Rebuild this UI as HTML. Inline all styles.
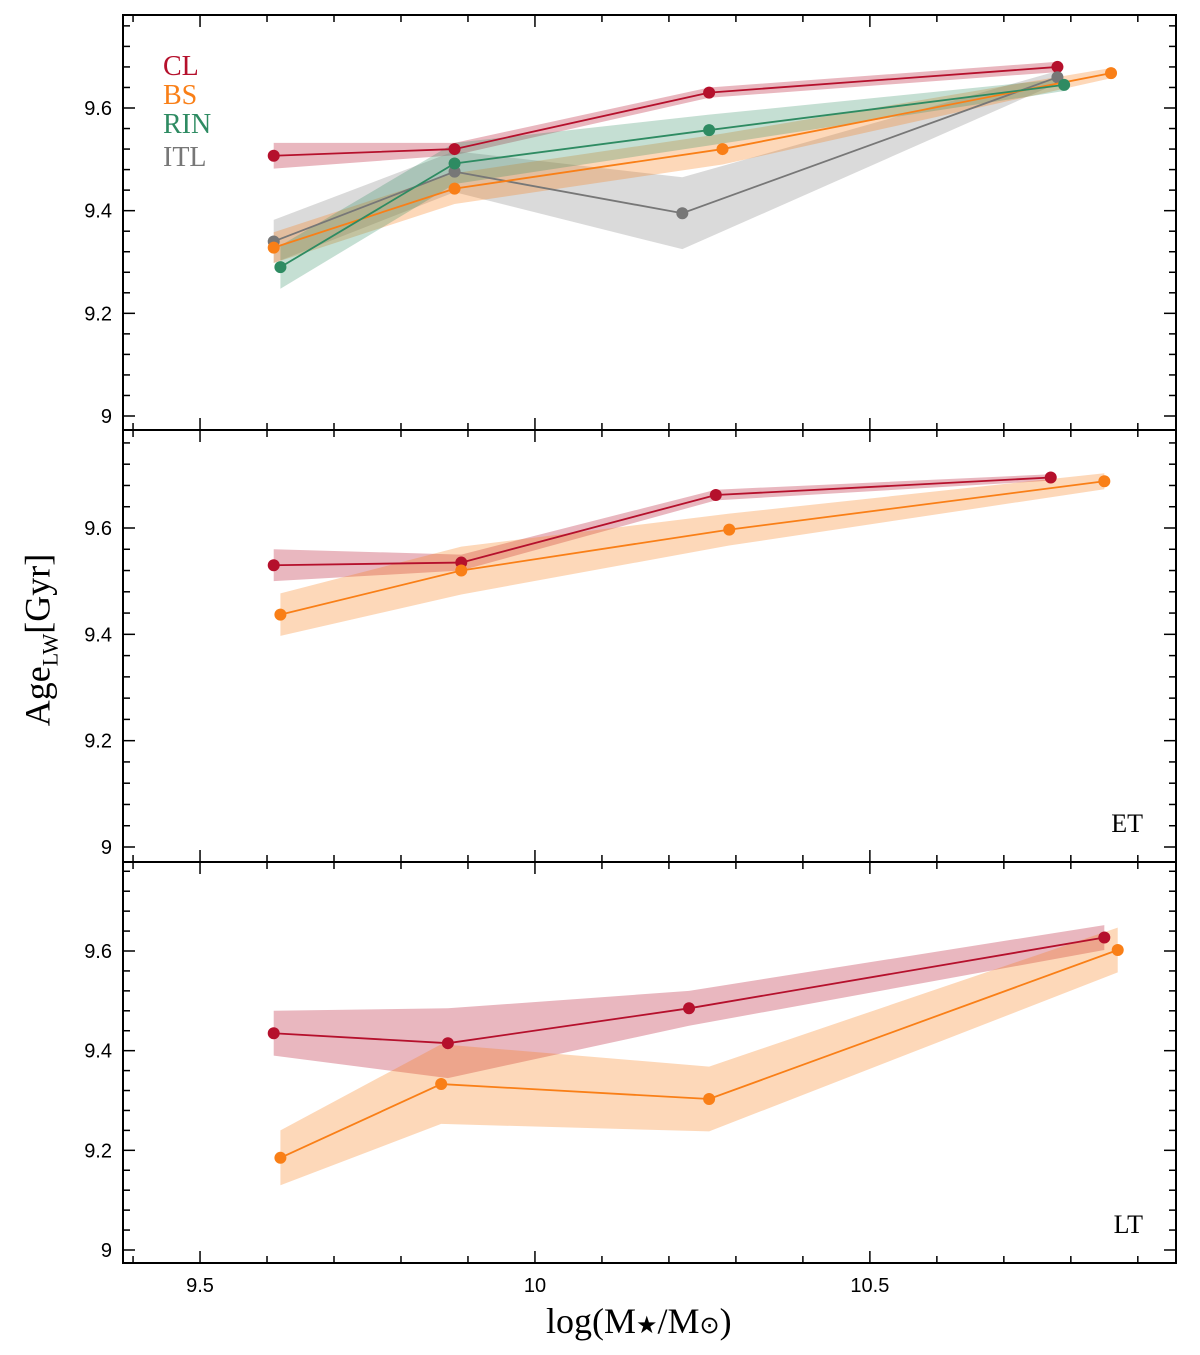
<!DOCTYPE html>
<html><head><meta charset="utf-8"><style>
html,body{margin:0;padding:0;background:#fff;}
svg{display:block;font-family:"Liberation Sans",sans-serif;}
.serif{font-family:"Liberation Serif",serif;}
</style></head><body>
<svg id="chart" width="1200" height="1355" viewBox="0 0 1200 1355"></svg>
<script>
// data
const clTopX=[9.61,9.88,10.26,10.78], clTopY=[9.507,9.52,9.63,9.68], clTopE=[0.025,0.012,0.01,0.01];
const bsTopX=[9.61,9.88,10.28,10.86], bsTopY=[9.328,9.443,9.52,9.668], bsTopE=[0.03,0.03,0.03,0.01];
const rinTopX=[9.62,9.88,10.26,10.79], rinTopY=[9.29,9.492,9.557,9.645], rinTopE=[0.042,0.04,0.03,0.012];
const itlTopX=[9.61,9.88,10.22,10.78], itlTopY=[9.34,9.476,9.395,9.66], itlTopE=[0.042,0.04,0.07,0.012];
const clEtX=[9.61,9.89,10.27,10.77], clEtY=[9.53,9.535,9.662,9.695], clEtE=[0.03,0.015,0.01,0.006];
const bsEtX=[9.62,9.89,10.29,10.85], bsEtY=[9.437,9.52,9.597,9.688], bsEtE=[0.04,0.045,0.03,0.015];
const clLtX=[9.61,9.87,10.23,10.85], clLtY=[9.435,9.415,9.485,9.627], clLtE=[0.045,0.07,0.035,0.025];
const bsLtX=[9.62,9.86,10.26,10.87], bsLtY=[9.185,9.333,9.303,9.602], bsLtE=[0.055,0.08,0.065,0.045];
const xTicks=[9.5,10,10.5], xTickLabels=["9.5","10","10.5"];
const yTicks=[9,9.2,9.4,9.6], yTickLabels=["9","9.2","9.4","9.6"];

const NS="http://www.w3.org/2000/svg";
const svg=document.getElementById('chart');
const L=123,R=1176,XMIN=9.385,XMAX=10.957;
const xs=v=>L+(v-XMIN)/(XMAX-XMIN)*(R-L);
function mk(tag,attrs,parent){const e=document.createElementNS(NS,tag);for(const k in attrs)e.setAttribute(k,attrs[k]);(parent||svg).appendChild(e);return e;}
const panels=[
 {name:'all',top:15,bot:430,y0:9,p0:416,y1:9.6,p1:108,series:[
   ['cl',clTopX,clTopY,clTopE,'#b5102c','rgba(181,16,44,0.3)'],
   ['itl',itlTopX,itlTopY,itlTopE,'#777','rgba(150,150,150,0.35)'],
   ['bs',bsTopX,bsTopY,bsTopE,'#f97f17','rgba(249,127,23,0.3)'],
   ['rin',rinTopX,rinTopY,rinTopE,'#2e8b62','rgba(46,139,98,0.28)']]},
 {name:'et',top:430,bot:862,y0:9,p0:847,y1:9.6,p1:528,label:'ET',series:[
   ['cl',clEtX,clEtY,clEtE,'#b5102c','rgba(181,16,44,0.3)'],
   ['bs',bsEtX,bsEtY,bsEtE,'#f97f17','rgba(249,127,23,0.3)']]},
 {name:'lt',top:862,bot:1263,y0:9,p0:1250,y1:9.6,p1:951,label:'LT',series:[
   ['cl',clLtX,clLtY,clLtE,'#b5102c','rgba(181,16,44,0.3)'],
   ['bs',bsLtX,bsLtY,bsLtE,'#f97f17','rgba(249,127,23,0.3)']]}
];
panels.forEach(p=>{
 const ys=v=>p.p0+(v-p.y0)/(p.y1-p.y0)*(p.p1-p.p0);
 const g=mk('g',{});
 
 
 p.series.forEach(s=>{
  const [nm,X,Y,E,c,f]=s;
  let up=X.map((x,i)=>xs(x)+','+ys(Y[i]+E[i])), dn=X.map((x,i)=>xs(x)+','+ys(Y[i]-E[i])).reverse();
  const band=mk('polygon',{points:up.concat(dn).join(' '),fill:f,stroke:'none'},g);
  
  
 });
 p.series.forEach(s=>{
  const [nm,X,Y,E,c]=s;
  const ln=mk('polyline',{points:X.map((x,i)=>xs(x)+','+ys(Y[i])).join(' '),fill:'none',stroke:c,'stroke-width':1.8},g);
  
  
  X.forEach((x,i)=>{
   const d=mk('circle',{cx:xs(x),cy:ys(Y[i]),r:6,fill:c},g);
   
   
  });
 });
 // frame
 const fr=mk('rect',{x:L,y:p.top,width:R-L,height:p.bot-p.top,fill:'none',stroke:'#000','stroke-width':2},g);
 
 
 // x ticks
 for(let k=94;k<=109;k++){const v=k/10;const X=xs(v);if(X<L||X>R)continue;
  const maj=(k%5===0);const len=maj?12:7;
  mk('line',{x1:X,y1:p.bot,x2:X,y2:p.bot-len,stroke:'#000','stroke-width':1.5},g);
  mk('line',{x1:X,y1:p.top,x2:X,y2:p.top+len,stroke:'#000','stroke-width':1.5},g);
 }
 // y ticks
 for(let k=0;k<=20;k++){const v=8.96+k*0.04;const Y=ys(v);if(Y<p.top||Y>p.bot)continue;
  const maj=(Math.round(k)%5===1);const len=maj?12:7;
  mk('line',{x1:L,y1:Y,x2:L+len,y2:Y,stroke:'#000','stroke-width':1.5},g);
  mk('line',{x1:R,y1:Y,x2:R-len,y2:Y,stroke:'#000','stroke-width':1.5},g);
 }
 yTicks.forEach((v,i)=>{
  const t=mk('text',{x:112,y:ys(v)+7,'text-anchor':'end','font-size':20,fill:'#000'},g);
  t.textContent=yTickLabels[i];
  
  
 });
 if(p.label){
  const t=mk('text',{x:1143,y:p.bot-30,'text-anchor':'end','font-size':26,class:'serif'},g);
  t.textContent=p.label;
  
  
 }
});
xTicks.forEach((v,i)=>{
 const t=mk('text',{x:xs(v),y:1292,'text-anchor':'middle','font-size':20});
 t.textContent=xTickLabels[i];
 
 
});
const legend=[['CL','#b5102c',75],['BS','#f97f17',104],['RIN','#2e8b62',133],['ITL','#777',166]];
legend.forEach(l=>{
 const t=mk('text',{x:163,y:l[2],'font-size':28,fill:l[1],class:'serif'});
 t.textContent=l[0];
 
 
});
</script>
<div class="serif" style="position:absolute;left:546px;top:1300px;font-size:36px;font-family:'Liberation Serif',serif;">log(M<span style="font-size:24px">★</span>/M<span style="font-size:24px">⊙</span>)</div>
<div style="position:absolute;left:40px;top:640px;transform:translate(-50%,-50%) rotate(-90deg);font-size:36px;font-family:'Liberation Serif',serif;white-space:nowrap;">Age<sub style="font-size:22px">LW</sub>[Gyr]</div>
</body></html>
